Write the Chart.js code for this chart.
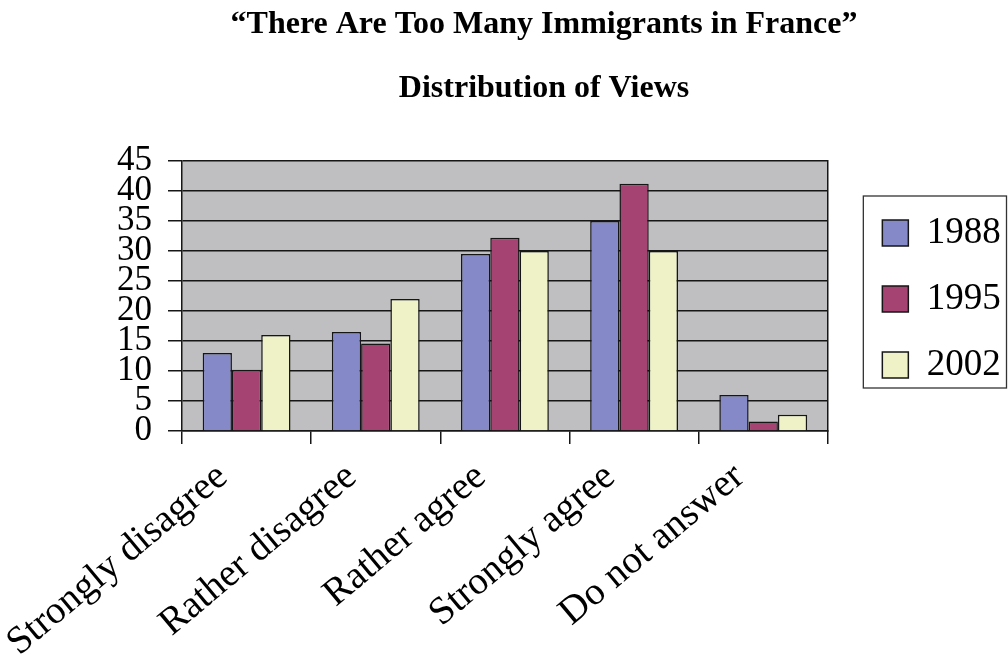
<!DOCTYPE html>
<html>
<head>
<meta charset="utf-8">
<title>There Are Too Many Immigrants in France</title>
<script src="https://cdn.jsdelivr.net/npm/chart.js"></script>
<style>
  html, body { margin: 0; padding: 0; background: #ffffff; }
  #wrap { position: relative; width: 1008px; height: 671px; }
</style>
</head>
<body>
<div id="wrap"><canvas id="chart"></canvas></div>
<script>
// ---- data ----
const categories = ['Strongly disagree', 'Rather disagree', 'Rather agree', 'Strongly agree', 'Do not answer'];
const years = ['1988', '1995', '2002'];
const views1988 = [13.0, 16.5, 29.5, 35.0, 6.0];
const views1995 = [10.2, 14.6, 32.2, 41.2, 1.6];
const views2002 = [16.0, 22.0, 30.0, 30.0, 2.7];
const yTicks = [0, 5, 10, 15, 20, 25, 30, 35, 40, 45];

const titleLines = ['\u201CThere Are Too Many Immigrants in France\u201D', 'Distribution of Views'];

const colors = ['#8589c7', '#a54472', '#eef2c6'];
const lineColor = '#161616';
const serif = "'Liberation Serif', 'Times New Roman', serif";

Chart.defaults.font.family = serif;
Chart.defaults.color = '#000000';

// grey plot area behind the gridlines
const plotBackground = {
  id: 'plotBackground',
  beforeDraw(chart) {
    const { ctx, chartArea: a } = chart;
    ctx.save();
    ctx.fillStyle = '#bfbfc1';
    ctx.fillRect(a.left, a.top, a.right - a.left, a.bottom - a.top);
    ctx.restore();
  }
};

// frame round the legend
const legendFrame = {
  id: 'legendFrame',
  afterDraw(chart) {
    const hb = chart.legend.legendHitBoxes;
    if (!hb || !hb.length) return;
    const first = hb[0], last = hb[hb.length - 1];
    const left = first.left - 19;
    const top = first.top - 18.5;
    const bottom = last.top + 41.5;
    const right = chart.width - 1.5;
    const ctx = chart.ctx;
    ctx.save();
    ctx.strokeStyle = '#333333';
    ctx.lineWidth = 1.3;
    ctx.strokeRect(left, top, right - left, bottom - top);
    ctx.restore();
  }
};

const datasets = [views1988, views1995, views2002].map((vals, i) => ({
  label: years[i],
  data: vals,
  backgroundColor: colors[i],
  borderColor: lineColor,
  borderWidth: 1.5,
  categoryPercentage: 0.68,
  barPercentage: 1.0
}));

new Chart(document.getElementById('chart'), {
  type: 'bar',
  data: { labels: categories, datasets: datasets },
  options: {
    responsive: true,
    maintainAspectRatio: false,
    animation: false,
    layout: { padding: { left: 80, right: 0, top: 0, bottom: 0 } },
    plugins: {
      title: {
        display: true,
        text: titleLines,
        color: '#000000',
        font: { family: serif, size: 32, weight: 'bold', lineHeight: 2 },
        padding: { top: -7, bottom: 40 }
      },
      legend: {
        position: 'right',
        align: 'start',
        // empty title only pushes the items down to the plot's middle
        title: {
          display: true,
          text: '',
          font: { size: 10, lineHeight: 1 },
          padding: { top: 175.5, bottom: 0 }
        },
        labels: {
          boxWidth: 26,
          boxHeight: 26,
          padding: 29,
          color: '#000000',
          font: { family: serif, size: 37 }
        }
      },
      tooltip: { enabled: false }
    },
    scales: {
      x: {
        offset: true,
        grid: {
          offset: true,
          drawOnChartArea: false,
          tickLength: 13,
          color: lineColor,
          lineWidth: 1.5
        },
        border: { display: true, color: lineColor, width: 1.5 },
        ticks: {
          autoSkip: false,
          minRotation: 40,
          maxRotation: 40,
          padding: 10,
          labelOffset: -24,
          color: '#000000',
          font: { family: serif, size: 39 }
        },
        afterFit(s) {
          s.height = 240;
          s.paddingLeft = 0;
          s.paddingRight = 0;
        }
      },
      y: {
        min: 0,
        max: 45,
        grid: {
          color: lineColor,
          lineWidth: 1.5,
          tickLength: 14
        },
        border: { display: true, color: lineColor, width: 1.5 },
        ticks: {
          stepSize: 5,
          autoSkip: false,
          padding: 16,
          color: '#000000',
          font: { family: serif, size: 35, lineHeight: 1 },
          callback: (v) => yTicks.includes(v) ? String(v) : ''
        },
        afterFit(s) {
          s.width = 102;
          s.paddingTop = 0;
          s.paddingBottom = 0;
        }
      },
      // right-hand edge of the plot frame
      edge: {
        type: 'linear',
        position: 'right',
        display: true,
        grid: { display: false },
        ticks: { display: false },
        border: { display: true, color: lineColor, width: 1.5 },
        afterFit(s) {
          s.width = 25.5;
          s.paddingTop = 0;
          s.paddingBottom = 0;
        }
      }
    }
  },
  plugins: [plotBackground, legendFrame]
});
</script>
</body>
</html>
